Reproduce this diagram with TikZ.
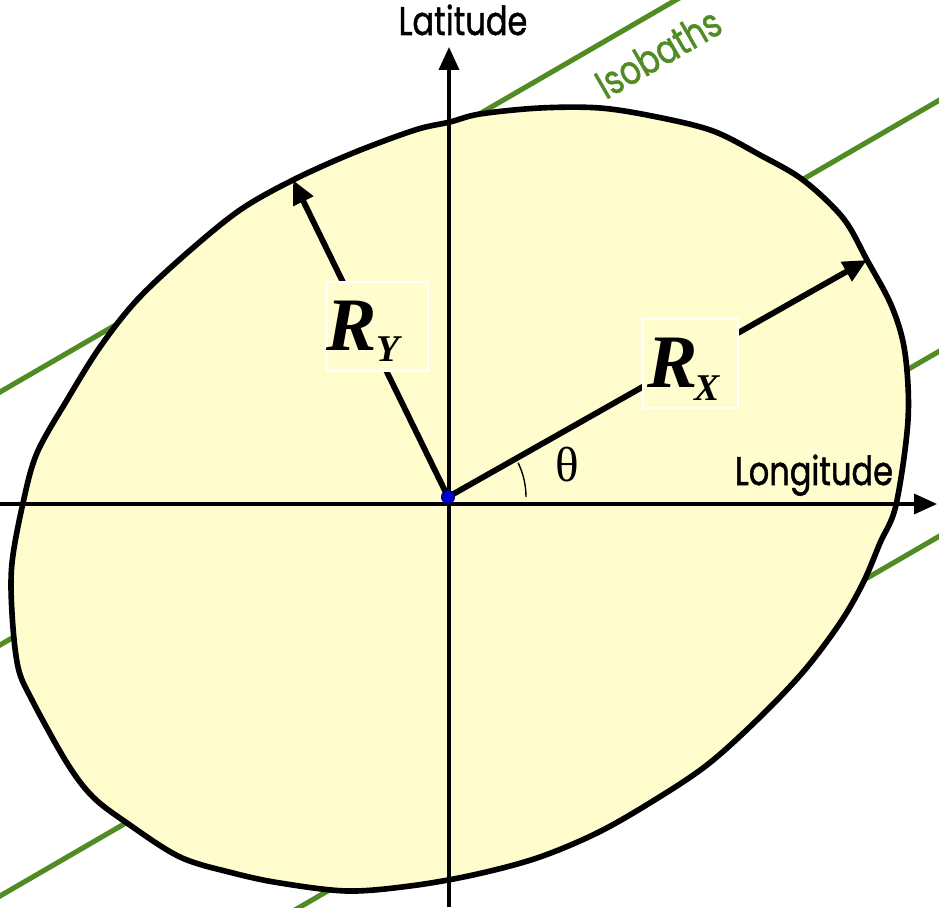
\documentclass[tikz,border=0pt]{standalone}
\usepackage{fontspec}
\usepackage{graphicx}
\setmainfont{Liberation Serif}
\newfontfamily\futura[FakeBold=1.3]{Poppins}
\usetikzlibrary{arrows.meta}
\definecolor{isogreen}{RGB}{80,140,35}
\definecolor{ellfill}{RGB}{255,253,205}
\begin{document}
\begin{tikzpicture}[x=0.02cm,y=0.02cm,
  axisline/.style={line width=2.1pt,-{Triangle[length=13pt,width=11.3pt]}},
  rarrow/.style={line width=3.3pt,-{Triangle[length=13.5pt,width=12pt]}},
  isobath/.style={isogreen,line width=2.9pt},
  axislabel/.style={font=\futura\fontsize{22.8}{24}\selectfont, inner sep=0pt},
  rlabel/.style={font=\bfseries\itshape\fontsize{43}{45}\selectfont, inner sep=0pt},
  rbox/.style={fill=ellfill, draw=white, line width=0.6pt, inner sep=0pt}]
\useasboundingbox (0,0) rectangle (939,907);
% isobaths
\begin{scope}
\clip (0,0) rectangle (939,907);
\draw[isobath] (-20,503.4) -- (700,921);
\draw[isobath] (-20,250.4) -- (960,818.8);
\draw[isobath] (-30,-6.4) -- (960,567.8);
\draw[isobath] (280,-11.6) -- (960,382.8);
\end{scope}
% ellipse
\draw[line width=3.2pt, fill=ellfill, line join=round]
  plot[smooth cycle, tension=0.55] coordinates {
  (415,777) (450,785) (480,793) (540,799) (600,799) (657,790) (713,776)
  (760,752) (803,727) (843,689) (867,647) (892,600) (905,554) (908,487)
  (896,402) (880,364) (863,324) (840,284) (803,235) (757,187) (707,142)
  (653,106) (597,74) (537,49) (473,32) (410,21) (347,16) (280,24) (233,34)
  (180,50) (127,84) (93,110) (67,144) (32,207) (18,240) (12,294) (12,344)
  (23,404) (37,454) (67,507) (100,560) (137,607) (187,654) (240,697)
  (293,727) (353,754)};
% axes
\coordinate (xl) at (0,403);
\coordinate (xr) at (937,403);
\coordinate (yb) at (449,0);
\coordinate (yt) at (449,860);
\draw[axisline] (xl) -- (xr);
\draw[axisline] (yb) -- (yt);
% radii
\coordinate (oc) at (448,410);
\coordinate (rxtip) at (867,647);
\coordinate (rytip) at (293,727);
\draw[rarrow] (oc) -- (rxtip);
\draw[rarrow] (oc) -- (rytip);
\draw[line width=0.8pt] (oc) ++(0:78) arc[start angle=0,end angle=26,radius=78];
\node[circle, fill=blue!80!black, draw=black!50!blue, line width=0.6pt, inner sep=0pt, minimum size=0.26cm] (o) at (oc) {};
\node[font=\fontsize{28}{30}\selectfont, inner sep=0pt] (theta) at (567,442) {θ};
% labels R
\node[rbox, minimum width=1.9cm, minimum height=1.78cm] (rxbox) at (690.5,543.5) {};
\node[rlabel, anchor=base west] (rx) at (647,520) {R\kern-2pt\raisebox{-7.4pt}{\fontsize{21.5}{22}\selectfont X}};
\node[rbox, minimum width=2.02cm, minimum height=1.78cm] (rybox) at (377.5,580.5) {};
\node[rlabel, anchor=base west] (ry) at (326,557) {R\raisebox{-6.8pt}{\fontsize{21.5}{22}\selectfont Y}};
% axis labels
\node[axislabel, anchor=base] (lat) at (463,872) {\scalebox{0.8}[1]{Latitude}};
\node[axislabel, anchor=base] (lon) at (814,422) {\scalebox{0.8}[1]{Longitude}};
\node[axislabel, text=isogreen, rotate=30] (iso) at (658,854) {\scalebox{0.8}[1]{Isobaths}};
\end{tikzpicture}
\end{document}
